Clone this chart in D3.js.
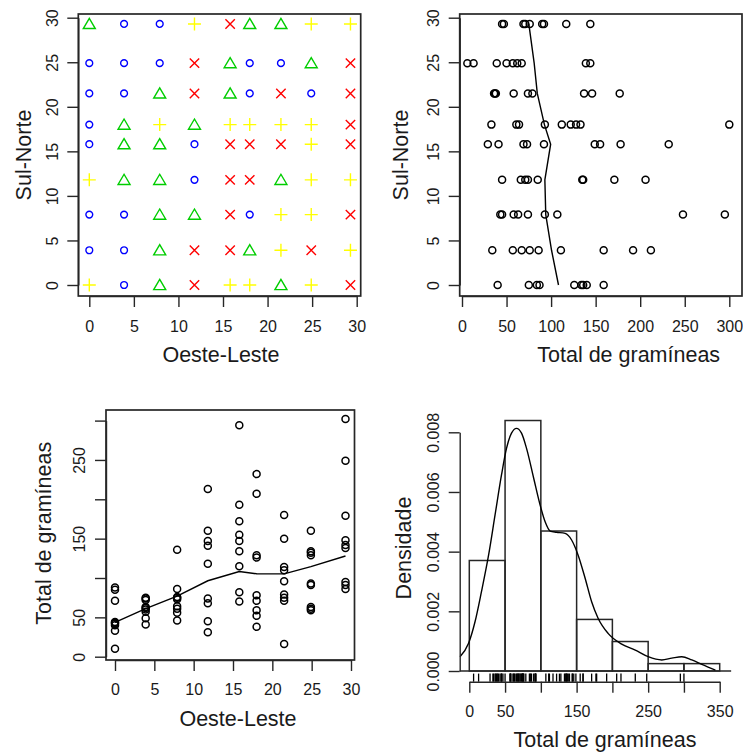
<!DOCTYPE html>
<html>
<head>
<meta charset="utf-8">
<script src="https://cdn.jsdelivr.net/npm/d3@7"></script>
<style>
  body { margin: 0; background: #fff; }
  svg { display: block; }
  text { font-family: "Liberation Sans", Arial, sans-serif; fill: #1a1a1a; }
  .lab { font-size: 21.5px; }
</style>
</head>
<body>
<svg id="chart" width="743" height="753"></svg>
<script>
// grid positions (Oeste-Leste and Sul-Norte share the same 9 positions)
const grid = [0, 3.9, 7.9, 11.8, 15.8, 18, 21.5, 24.9, 29.3]

// symbol class per cell, rows from Sul-Norte = 0 upward, columns west to east
// 1 = circle, 2 = triangle, 3 = plus, 4 = cross
const classRows = [
  [3, 1, 2, 4, 3, 3, 2, 3, 4],
  [1, 1, 2, 4, 4, 2, 3, 4, 3],
  [1, 1, 2, 2, 4, 1, 3, 3, 4],
  [3, 2, 2, 1, 4, 4, 2, 3, 3],
  [1, 2, 2, 1, 4, 4, 4, 3, 4],
  [1, 2, 3, 2, 3, 3, 3, 3, 4],
  [1, 1, 2, 4, 2, 1, 4, 1, 4],
  [1, 1, 1, 4, 2, 1, 1, 2, 4],
  [2, 1, 1, 3, 4, 2, 2, 3, 3]
]

// Total de gramíneas at each Sul-Norte row
const totalsByRow = [
  [40, 75, 84, 87, 126, 134, 136, 140, 159],
  [34, 57, 67, 76, 86, 111, 159, 192, 212],
  [43, 45, 58, 63, 74, 93, 107, 248, 295],
  [45, 66, 71, 74, 85, 135, 136, 171, 206],
  [29, 41, 69, 73, 92, 149, 155, 178, 232],
  [33, 61, 64, 93, 112, 122, 128, 133, 300],
  [36, 37, 38, 58, 74, 79, 137, 146, 177],
  [6, 13, 39, 50, 57, 62, 67, 139, 144],
  [45, 47, 69, 71, 76, 90, 92, 117, 144]
]

// Total de gramíneas at each Oeste-Leste column
const totalsByCol = [
  [10, 33, 40, 42, 43, 44, 71, 85, 88],
  [41, 49, 57, 60, 62, 63, 72, 74, 75],
  [46, 56, 61, 64, 73, 75, 76, 86, 136],
  [31, 45, 68, 74, 118, 141, 147, 160, 213],
  [70, 82, 115, 134, 147, 155, 172, 193, 294],
  [38, 52, 59, 71, 78, 126, 129, 207, 232],
  [16, 71, 75, 79, 96, 110, 114, 150, 180],
  [59, 61, 63, 91, 93, 129, 132, 134, 160],
  [86, 91, 95, 138, 142, 148, 179, 249, 302]
]

// smoothed lines, one value per grid position
const lowessByRow = [108.3, 100.5, 94, 93, 99.5, 92.5, 84.5, 81, 75]
const lowessByCol = [43.5, 61, 77, 96.5, 108.3, 105.4, 105.2, 114.5, 128]

// histogram
const binEdges = [0, 50, 100, 150, 200, 250, 300, 350]
const binCounts = [15, 34, 19, 7, 4, 1, 1]
const nTotal = 81

// density curve
const densX = [-13, -1, 8, 17, 27, 36, 45, 52, 59, 66, 73, 80, 90, 99, 106, 113, 122, 134, 143, 152,
  162, 171, 180, 194, 213, 232, 250, 269, 283, 297, 311, 325, 344]
const densY = [0.48, 0.93, 1.65, 2.66, 3.89, 5.23, 6.57, 7.46, 7.97, 8.13, 7.97, 7.46, 6.46, 5.56, 5.0,
  4.69, 4.65, 4.61, 4.39, 3.89, 3.1, 2.32, 1.77, 1.26, 0.9, 0.7, 0.48, 0.37, 0.43, 0.48, 0.37, 0.22, 0.03]
  .map(d => d / 1000)

// ticks
const gridTicks = [0, 5, 10, 15, 20, 25, 30]
const totalTicks = [0, 50, 100, 150, 200, 250, 300]
const totalTickLabels = [0, 50, 150, 250]
const histTicks = [0, 50, 100, 150, 200, 250, 300, 350]
const histTickLabels = [0, 50, 150, 250, 350]
const densTicks = [0, 0.002, 0.004, 0.006, 0.008]

const classColors = ['#0000ff', '#00cd00', '#ffff00', '#ff0000']
const INK = '#262626'

const svg = d3.select('#chart')
svg.append('rect').attr('width', 743).attr('height', 753).attr('fill', '#fff')

function styleAxis(g) {
  g.attr('font-size', 16).attr('font-family', '"Liberation Sans", Arial, sans-serif').attr('color', INK)
  g.selectAll('path, line').attr('stroke-width', 1.4)
}

function bottomAxis(scale, ticks, labels, y, labelY) {
  const g = svg.append('g')
    .attr('transform', `translate(0, ${y})`)
    .call(d3.axisBottom(scale).tickValues(ticks).tickSize(11).tickSizeOuter(0)
      .tickFormat(d => labels.includes(d) ? d : ''))
  styleAxis(g)
  g.selectAll('text').attr('y', labelY).attr('dy', null)
}

function leftAxis(scale, ticks, labels, x, labelX, fmt = d => d) {
  const g = svg.append('g')
    .attr('transform', `translate(${x}, 0)`)
    .call(d3.axisLeft(scale).tickValues(ticks).tickSize(11).tickSizeOuter(0)
      .tickFormat(d => labels.includes(d) ? fmt(d) : ''))
  styleAxis(g)
  g.selectAll('text')
    .attr('x', null).attr('dy', null)
    .attr('text-anchor', 'middle')
    .attr('transform', `translate(${-labelX}, 0) rotate(-90)`)
}

function box(x0, y0, x1, y1) {
  svg.append('rect')
    .attr('x', x0).attr('y', y0).attr('width', x1 - x0).attr('height', y1 - y0)
    .attr('fill', 'none').attr('stroke', INK).attr('stroke-width', 1.7)
}

function xTitle(txt, x, y) {
  svg.append('text').attr('class', 'lab').attr('x', x).attr('y', y)
    .attr('text-anchor', 'middle').text(txt)
}

function yTitle(txt, x, y) {
  svg.append('text').attr('class', 'lab')
    .attr('transform', `translate(${x}, ${y}) rotate(-90)`)
    .attr('text-anchor', 'middle').text(txt)
}

const symbolPaths = {
  1: d3.symbol(d3.symbolCircle, Math.PI * 3.4 * 3.4)(),
  2: 'M0,-5.6L6,4.6L-6,4.6Z',
  3: 'M-6.5,0H6.5M0,-6.5V6.5',
  4: 'M-4.7,-4.7L4.7,4.7M-4.7,4.7L4.7,-4.7'
}

// ---- panel 1: symbol map ----
const x1 = d3.scaleLinear().domain([0, 30]).range([89.3, 356.7])
const y1 = d3.scaleLinear().domain([0, 30]).range([285, 17.7])

const cells = []
classRows.forEach((row, i) => row.forEach((c, j) => cells.push({ x: grid[j], y: grid[i], c })))

svg.append('g').selectAll('path')
  .data(cells)
  .enter()
  .append('path')
  .attr('transform', d => `translate(${x1(d.x)}, ${y1(d.y)})`)
  .attr('d', d => symbolPaths[d.c])
  .attr('fill', 'none')
  .attr('stroke', d => classColors[d.c - 1])
  .attr('stroke-width', 1.4)

box(78.3, 14, 360.7, 296)
bottomAxis(x1, gridTicks, gridTicks, 296, 36)
leftAxis(y1, gridTicks, gridTicks, 78.3, 20.3)
xTitle('Oeste-Leste', 221, 362)
yTitle('Sul-Norte', 31, 155)

// ---- panel 2: Sul-Norte vs total ----
const x2 = d3.scaleLinear().domain([0, 300]).range([462, 729.3])
const y2 = y1

const rowPts = []
totalsByRow.forEach((vals, i) => vals.forEach(v => rowPts.push({ v, y: grid[i] })))

svg.append('g').selectAll('circle')
  .data(rowPts)
  .enter()
  .append('circle')
  .attr('cx', d => x2(d.v))
  .attr('cy', d => y2(d.y))
  .attr('r', 3.5)
  .attr('fill', 'none').attr('stroke', '#000').attr('stroke-width', 1.5)

svg.append('path')
  .attr('d', d3.line().x(d => x2(d[0])).y(d => y2(d[1]))(lowessByRow.map((v, i) => [v, grid[i]])))
  .attr('fill', 'none').attr('stroke', '#000').attr('stroke-width', 1.4)

box(459.7, 14, 742, 296)
bottomAxis(x2, totalTicks, totalTicks, 296, 36)
leftAxis(y2, gridTicks, gridTicks, 459.7, 21)
xTitle('Total de gramíneas', 628.7, 362)
yTitle('Sul-Norte', 407.5, 155)

// ---- panel 3: total vs Oeste-Leste ----
const x3 = d3.scaleLinear().domain([0, 30]).range([115, 351])
const y3 = d3.scaleLinear().domain([0, 300]).range([656.7, 420.6])

const colPts = []
totalsByCol.forEach((vals, j) => vals.forEach(v => colPts.push({ x: grid[j], v })))

svg.append('g').selectAll('circle')
  .data(colPts)
  .enter()
  .append('circle')
  .attr('cx', d => x3(d.x))
  .attr('cy', d => y3(d.v))
  .attr('r', 3.5)
  .attr('fill', 'none').attr('stroke', '#000').attr('stroke-width', 1.5)

svg.append('path')
  .attr('d', d3.line().x(d => x3(d[0])).y(d => y3(d[1]))(lowessByCol.map((v, j) => [grid[j], v])))
  .attr('fill', 'none').attr('stroke', '#000').attr('stroke-width', 1.4)

box(106, 410, 354.5, 660)
bottomAxis(x3, gridTicks, gridTicks, 660, 35)
leftAxis(y3, totalTicks, totalTickLabels, 106, 21)
xTitle('Oeste-Leste', 238, 725.5)
yTitle('Total de gramíneas', 51.4, 533.3)

// ---- panel 4: histogram + density + rug ----
const x4 = d3.scaleLinear().domain([0, 350]).range([469.3, 719.7])
const y4 = d3.scaleLinear().domain([0, 0.008]).range([671, 432.3])

const bins = binCounts.map((c, i) => ({ x0: binEdges[i], x1: binEdges[i + 1], dens: c / (nTotal * 50) }))

svg.append('line')
  .attr('x1', x4(-13.4)).attr('x2', x4(366))
  .attr('y1', y4(0)).attr('y2', y4(0))
  .attr('stroke', INK).attr('stroke-width', 1.4)

svg.append('g').selectAll('rect')
  .data(bins)
  .enter()
  .append('rect')
  .attr('x', d => x4(d.x0))
  .attr('y', d => y4(d.dens))
  .attr('width', d => x4(d.x1) - x4(d.x0))
  .attr('height', d => y4(0) - y4(d.dens))
  .attr('fill', 'none').attr('stroke', INK).attr('stroke-width', 1.5)

svg.append('path')
  .attr('d', d3.line().x(d => x4(d[0])).y(d => y4(d[1])).curve(d3.curveMonotoneX)(densX.map((v, i) => [v, densY[i]])))
  .attr('fill', 'none').attr('stroke', '#000').attr('stroke-width', 1.4)

const rugVals = totalsByRow.flat()
svg.append('g').selectAll('line')
  .data(rugVals)
  .enter()
  .append('line')
  .attr('x1', d => x4(d)).attr('x2', d => x4(d))
  .attr('y1', 681.7).attr('y2', 673.6)
  .attr('stroke', '#000').attr('stroke-width', 1.3)

leftAxis(y4, densTicks, densTicks, 459.7, 21, d3.format('.3f'))
bottomAxis(x4, histTicks, histTickLabels, 681.7, 35)
xTitle('Total de gramíneas', 605, 747)
yTitle('Densidade', 411, 548)
</script>
</body>
</html>
